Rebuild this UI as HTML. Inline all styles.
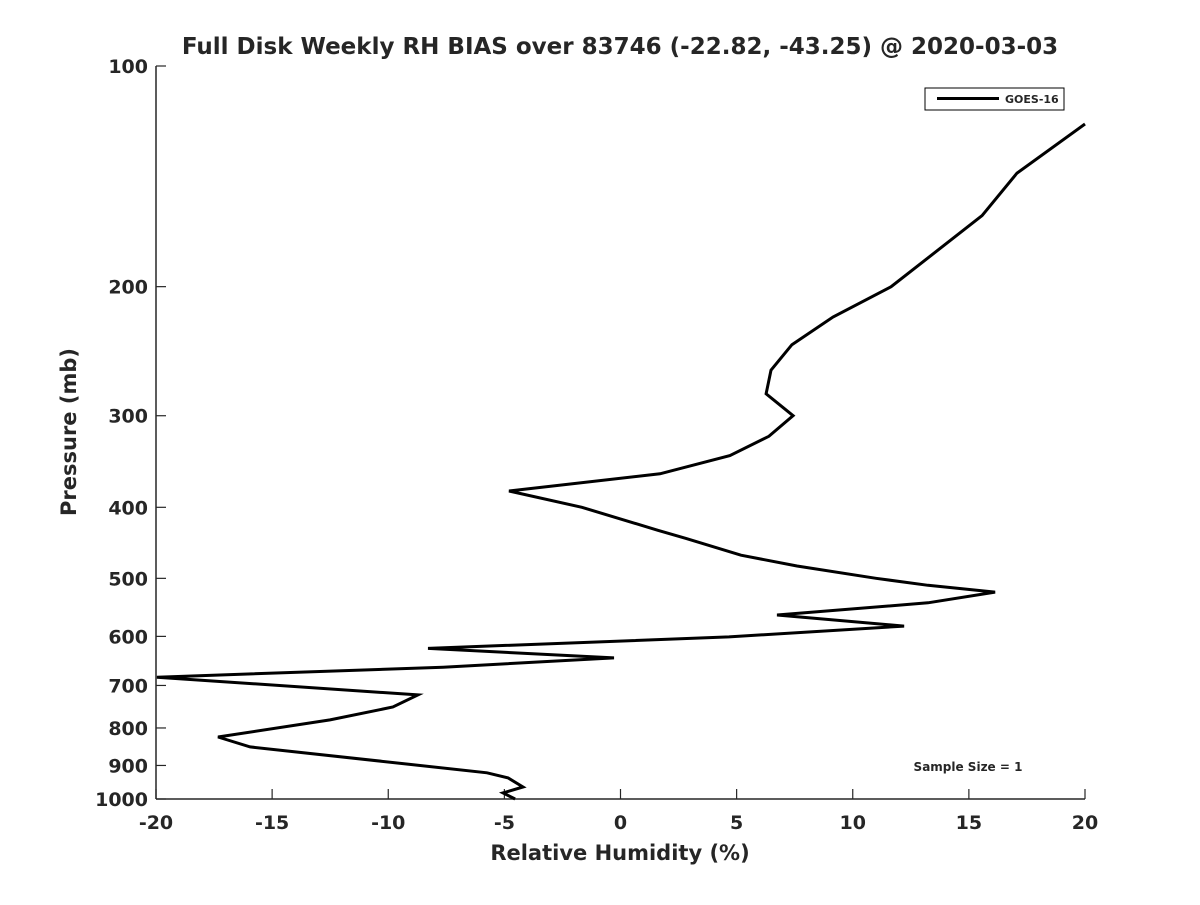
<!DOCTYPE html>
<html><head><meta charset="utf-8"><style>
body{margin:0;background:#fff;}
svg text{font-family:"DejaVu Sans","Liberation Sans",sans-serif;font-weight:bold;fill:#262626;}
</style></head><body>
<svg id="chart" width="1200" height="900" viewBox="0 0 1200 900">
<rect width="1200" height="900" fill="#fff"/>
<text x="620" y="54" font-size="23" text-anchor="middle" fill="#000">Full Disk Weekly RH BIAS over 83746 (-22.82, -43.25) @ 2020-03-03</text>
<g id="axes"></g>
<text x="620" y="860" font-size="21" text-anchor="middle">Relative Humidity (%)</text>
<text transform="translate(76,432) rotate(-90)" font-size="21" text-anchor="middle">Pressure (mb)</text>
<g>
<rect x="925" y="88" width="139" height="22" fill="#fff" stroke="#000" stroke-width="1"/>
<line x1="937" y1="98.5" x2="999" y2="98.5" stroke="#000" stroke-width="3"/>
<text x="1005" y="103" font-size="11" fill="#000">GOES-16</text>
</g>
<text x="968" y="771" font-size="12" text-anchor="middle" fill="#000">Sample Size = 1</text>
</svg>
<script>
const rhValues=[20.0,17.07,15.57,11.65,9.15,7.38,6.48,6.27,7.43,6.39,4.71,1.70,-4.80,-1.66,1.61,2.82,5.19,7.60,11.00,13.24,16.13,13.24,6.74,12.21,4.67,-8.29,-0.28,-7.64,-19.96,-8.72,-9.80,-12.51,-17.33,-15.95,-5.75,-4.84,-4.20,-5.06,-4.54];
const pressures=[120,140,160,200,220,240,260,280,300,320,340,360,380,400,430,441,465,481,500,511,522,540,561,581,601,623,642,661,682,721,749,780,823,849,921,936,963,981,1000];
const xTicks=[-20,-15,-10,-5,0,5,10,15,20];
const yTicks=[100,200,300,400,500,600,700,800,900,1000];
const L=156,R=1085,T=66,B=799;
const xs=v=>L+(v+20)/40*(R-L);
const ys=p=>T+(Math.log10(p)-2)*(B-T);
const NS='http://www.w3.org/2000/svg';
const g=document.getElementById('axes');
function mk(tag,attrs){const e=document.createElementNS(NS,tag);for(const k in attrs)e.setAttribute(k,attrs[k]);g.appendChild(e);return e;}
let ax=mk('line',{x1:L,y1:B,x2:R,y2:B,stroke:'#262626','stroke-width':1.5});


let ay=mk('line',{x1:L,y1:T,x2:L,y2:B,stroke:'#262626','stroke-width':1.5});


xTicks.forEach(v=>{
 const x=xs(v);
 const t=mk('line',{x1:x,y1:B,x2:x,y2:B-10,stroke:'#262626','stroke-width':1.2});
 
 
 const l=mk('text',{x:x,y:B+30,'font-size':19,'text-anchor':'middle'});
 l.textContent=v;
 
 
});
yTicks.forEach(p=>{
 const y=ys(p);
 const t=mk('line',{x1:L,y1:y,x2:L+10,y2:y,stroke:'#262626','stroke-width':1.2});
 
 
 const l=mk('text',{x:L-8,y:y+7,'font-size':19,'text-anchor':'end'});
 l.textContent=p;
 
 
});
const d=rhValues.map((v,i)=>(i?'L':'M')+xs(v).toFixed(1)+','+ys(pressures[i]).toFixed(1)).join(' ');
const line=mk('path',{d:d,fill:'none',stroke:'#000','stroke-width':3,'stroke-linejoin':'miter'});


</script>
</body></html>
